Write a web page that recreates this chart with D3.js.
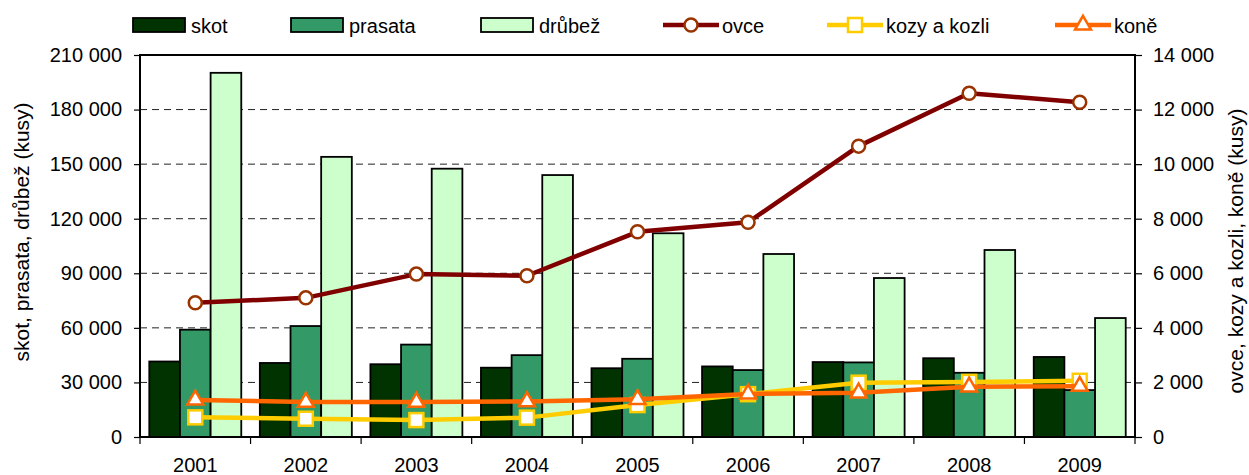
<!DOCTYPE html>
<html>
<head>
<meta charset="utf-8">
<script src="https://cdn.jsdelivr.net/npm/d3@7"></script>
<style>
  html, body { margin: 0; padding: 0; background: #fff; }
  svg { display: block; font-family: "Liberation Sans", Arial, sans-serif; }
</style>
</head>
<body>
<svg id="chart" width="1249" height="475"></svg>
<script>
// ---- data ----
const years = ["2001","2002","2003","2004","2005","2006","2007","2008","2009"];
const skot    = [41500, 40700, 40000, 38100, 37800, 38800, 41200, 43300, 44000];
const prasata = [59000, 61000, 50800, 45000, 43000, 36800, 41000, 35300, 25800];
const drubez  = [200200, 154000, 147500, 144000, 112000, 100600, 87400, 102800, 65400];
const ovce    = [4920, 5100, 5970, 5910, 7520, 7870, 10660, 12600, 12270];
const kozy    = [720, 670, 620, 710, 1170, 1570, 1990, 2020, 2060];
const kone    = [1360, 1280, 1280, 1300, 1380, 1580, 1620, 1840, 1860];
const leftTicks  = [0, 30000, 60000, 90000, 120000, 150000, 180000, 210000];
const rightTicks = [0, 2000, 4000, 6000, 8000, 10000, 12000, 14000];
const barSeries = [
  {key: "skot", label: "skot", values: skot, fill: "#003300"},
  {key: "prasata", label: "prasata", values: prasata, fill: "#339966"},
  {key: "drubez", label: "drůbež", values: drubez, fill: "#CCFFCC"}
];
const lineSeries = [
  {key: "ovce", label: "ovce", values: ovce, stroke: "#800000", mstroke: "#993300", marker: "circle"},
  {key: "kozy", label: "kozy a kozli", values: kozy, stroke: "#FFCC00", mstroke: "#FFCC00", marker: "square"},
  {key: "kone", label: "koně", values: kone, stroke: "#FF6600", mstroke: "#FF6600", marker: "triangle"}
];
const leftTitle = "skot, prasata, drůbež (kusy)";
const rightTitle = "ovce, kozy a kozli, koně (kusy)";

// ---- layout ----
const L = 140, R = 1135, T = 55, B = 437;
const svg = d3.select("#chart");
const fmt = d3.formatLocale({decimal: ",", thousands: " ", grouping: [3], currency: ["", ""]}).format(",d");

const x0 = d3.scaleBand().domain(years).range([L, R]).paddingInner(0.168).paddingOuter(0.084);
const x1 = d3.scaleBand().domain(barSeries.map(s => s.key)).range([0, x0.bandwidth()]);
const xCat = d3.scaleBand().domain(years).range([L, R]);
const yL = d3.scaleLinear().domain([0, 210000]).range([B, T]);
const yR = d3.scaleLinear().domain([0, 14000]).range([B, T]);

// gridlines
svg.append("g").selectAll("line")
  .data(leftTicks.filter(v => v > 0 && v < 210000))
  .join("line")
  .attr("x1", L).attr("x2", R)
  .attr("y1", d => yL(d)).attr("y2", d => yL(d))
  .attr("stroke", "#222").attr("stroke-width", 1)
  .attr("stroke-dasharray", "7,5");

// bars
const gBars = svg.append("g");
barSeries.forEach(s => {
  gBars.append("g").selectAll("rect")
    .data(s.values.map((v, i) => ({year: years[i], v})))
    .join("rect")
    .attr("x", d => x0(d.year) + x1(s.key))
    .attr("y", d => yL(d.v))
    .attr("width", x1.bandwidth())
    .attr("height", d => B - yL(d.v))
    .attr("fill", s.fill)
    .attr("stroke", "#000").attr("stroke-width", 1.8);
});

// frame
svg.append("rect").attr("x", L).attr("y", T).attr("width", R - L).attr("height", B - T)
  .attr("fill", "none").attr("stroke", "#000").attr("stroke-width", 2);

// axes
const axL = d3.axisLeft(yL).tickValues(leftTicks).tickFormat(fmt).tickSize(6).tickPadding(12);
const gL = svg.append("g").attr("transform", `translate(${L},0)`).call(axL);
const axR = d3.axisRight(yR).tickValues(rightTicks).tickFormat(fmt).tickSize(7).tickPadding(11);
const gR = svg.append("g").attr("transform", `translate(${R},0)`).call(axR);
const axB = d3.axisBottom(xCat).tickSize(0).tickPadding(21);
const gB = svg.append("g").attr("transform", `translate(0,${B})`).call(axB);
// category boundary ticks
svg.append("g").selectAll("line").data(years.concat(["end"]))
  .join("line")
  .attr("x1", (d, i) => i < years.length ? xCat(d) : R)
  .attr("x2", (d, i) => i < years.length ? xCat(d) : R)
  .attr("y1", B).attr("y2", B + 7)
  .attr("stroke", "#000").attr("stroke-width", 1.2);

[gL, gR, gB].forEach(g => {
  g.select(".domain").remove();
  g.selectAll("text").attr("font-size", 20).attr("fill", "#000")
    .attr("font-family", "Liberation Sans, Arial, sans-serif");
  g.selectAll(".tick line").attr("stroke", "#000").attr("stroke-width", 1.2);
});
gB.selectAll("text").attr("dy", "0.71em");

// axis titles
svg.append("text").attr("transform", "translate(29,232) rotate(-90)")
  .attr("text-anchor", "middle").attr("font-size", 21).text(leftTitle);
svg.append("text").attr("transform", "translate(1243,251) rotate(-90)")
  .attr("text-anchor", "middle").attr("font-size", 21).text(rightTitle);

// lines
const cx = y => x0(y) + x0.bandwidth() / 2;
function drawMarker(g, type, x, y, stroke) {
  if (type === "circle") {
    g.append("circle").attr("cx", x).attr("cy", y).attr("r", 6.5)
      .attr("fill", "#fff").attr("stroke", stroke).attr("stroke-width", 2.5);
  } else if (type === "square") {
    g.append("rect").attr("x", x - 7).attr("y", y - 7).attr("width", 14).attr("height", 14)
      .attr("fill", "#fff").attr("stroke", stroke).attr("stroke-width", 2.5);
  } else {
    g.append("path").attr("d", d3.symbol(d3.symbolTriangle, 110)()).attr("transform", `translate(${x},${y})`)
      .attr("fill", "#fff").attr("stroke", stroke).attr("stroke-width", 2.5);
  }
}
lineSeries.forEach(s => {
  const g = svg.append("g");
  const line = d3.line().x((d, i) => cx(years[i])).y(d => yR(d));
  g.append("path").datum(s.values).attr("d", line)
    .attr("fill", "none").attr("stroke", s.stroke).attr("stroke-width", 4.5)
    .attr("stroke-linejoin", "round");
  s.values.forEach((v, i) => drawMarker(g, s.marker, cx(years[i]), yR(v), s.mstroke));
});

// legend
const legX = [133, 291, 481, 663, 827, 1055];
const leg = svg.append("g");
barSeries.forEach((s, i) => {
  const x = legX[i];
  leg.append("rect").attr("x", x).attr("y", 18).attr("width", 52).attr("height", 14)
    .attr("fill", s.fill).attr("stroke", "#000").attr("stroke-width", 1.8);
  leg.append("text").attr("x", x + 58).attr("y", 33).attr("font-size", 20).text(s.label);
});
lineSeries.forEach((s, j) => {
  const x = legX[3 + j];
  leg.append("line").attr("x1", x).attr("x2", x + 56).attr("y1", 25).attr("y2", 25)
    .attr("stroke", s.stroke).attr("stroke-width", 4.5);
  drawMarker(leg, s.marker, x + 28, 25, s.mstroke);
  leg.append("text").attr("x", x + 59).attr("y", 33).attr("font-size", 20).text(s.label);
});
</script>
</body>
</html>
